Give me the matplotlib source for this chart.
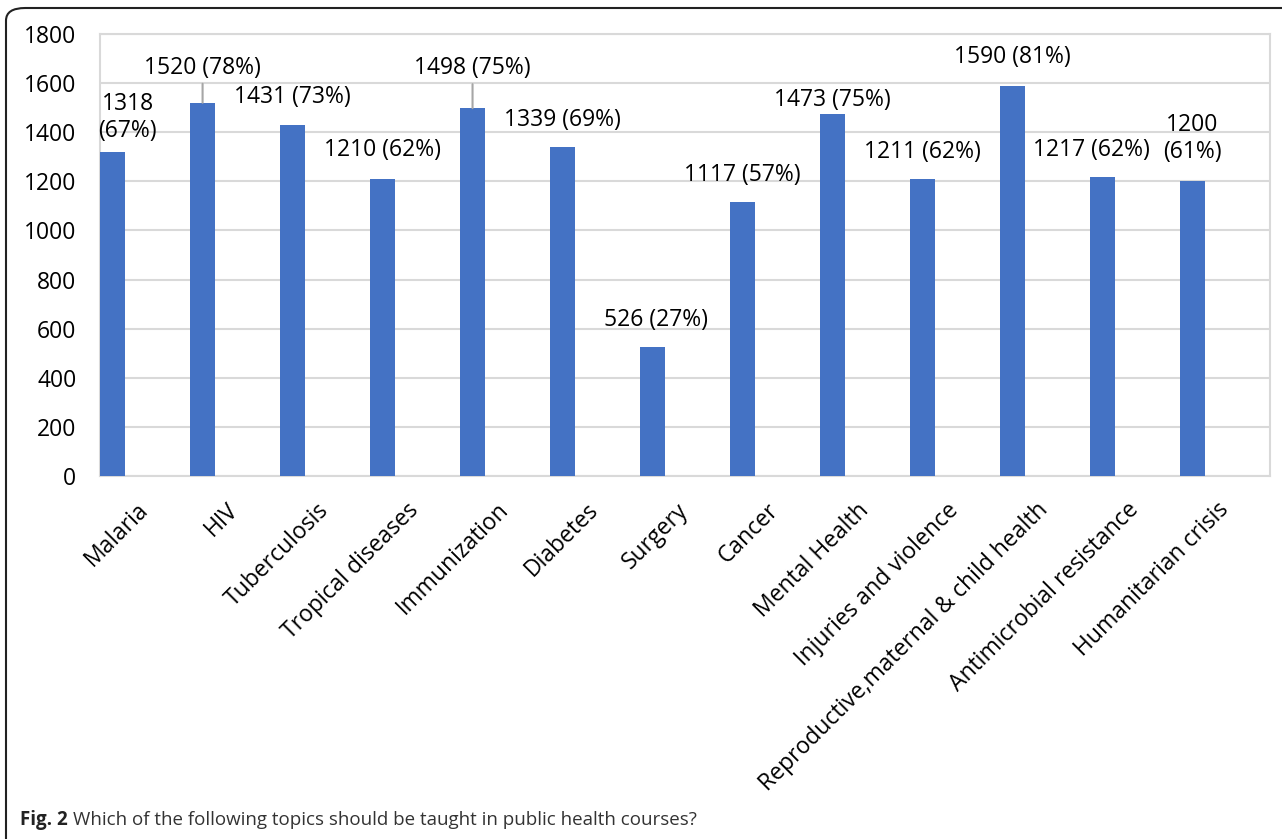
import matplotlib.pyplot as plt
from matplotlib.patches import FancyBboxPatch

# topics and counts
topics = ['Malaria', 'HIV', 'Tuberculosis', 'Tropical diseases', 'Immunization',
          'Diabetes', 'Surgery', 'Cancer', 'Mental Health', 'Injuries and violence',
          'Reproductive,maternal & child health', 'Antimicrobial resistance',
          'Humanitarian crisis']
counts = [1318, 1520, 1431, 1210, 1498, 1339, 526, 1117, 1473, 1211, 1590, 1217, 1200]
percents = [67, 78, 73, 62, 75, 69, 27, 57, 75, 62, 81, 62, 61]
y_ticks = [0, 200, 400, 600, 800, 1000, 1200, 1400, 1600, 1800]

# manual label placement (pixel offsets from bar top), like the original Excel chart
two_line = [True, False, False, False, False, False, False, False, False, False, False, False, True]
label_dx = [15, 0, 0, 0, 0, 0, 3, 0, 0, 0, 0, -11, 0]
label_dy = [35, 35, 28, 29, 40, 27, 27, 27, 14, 27, 29, 27, 43]
leader = [False, True, False, False, True, False, False, False, False, False, False, False, False]

plt.rcParams['font.family'] = ['Open Sans', 'DejaVu Sans']
FS = 16.5

fig = plt.figure(figsize=(12.82, 8.39), dpi=100)
ax = fig.add_axes([0.078, 0.4325, 0.9125, 0.527])

x = list(range(len(topics)))
ax.bar(x, counts, width=0.28, color='#4472C4', zorder=3)

ax.set_xlim(-0.14, 12.86)
ax.set_ylim(0, 1800)
ax.set_yticks(y_ticks)
ax.set_yticklabels([str(v) for v in y_ticks], fontsize=FS)
ax.yaxis.grid(True, color='#D9D9D9', linewidth=1.5, zorder=0)
ax.tick_params(axis='y', length=0, pad=17)
for s in ax.spines.values():
    s.set_color('#D9D9D9')
    s.set_linewidth(1.5)

ax.set_xticks([i + 0.36 for i in x])
ax.set_xticklabels(topics, rotation=45, ha='right', va='center',
                   rotation_mode='anchor', fontsize=FS)
ax.tick_params(axis='x', length=0, pad=22)

for i in x:
    if two_line[i]:
        txt = f'{counts[i]}\n({percents[i]}%)'
    else:
        txt = f'{counts[i]} ({percents[i]}%)'
    ax.annotate(txt, (i, counts[i]), xytext=(label_dx[i], label_dy[i]),
                textcoords='offset pixels', ha='center', va='center',
                fontsize=FS, linespacing=1.15, zorder=4)
    if leader[i]:
        ax.annotate('', (i, counts[i]), xytext=(0, label_dy[i] - 16),
                    textcoords='offset pixels',
                    arrowprops=dict(arrowstyle='-', color='#A6A6A6', lw=1.5,
                                    shrinkA=0, shrinkB=0))

# rounded frame around the figure panel
frame = FancyBboxPatch((6 / 1282, -0.1), 1.2, 1.1 - 8 / 839,
                       boxstyle='round,pad=0,rounding_size=0.015',
                       transform=fig.transFigure, fill=False,
                       edgecolor='#222222', linewidth=1.5, clip_on=False)
fig.patches.append(frame)

# caption: bold "Fig. 2" followed by the question
cap = fig.text(20 / 1282, 1 - 820 / 839, 'Fig. 2', fontsize=13.5, fontweight='bold',
               va='center', ha='left', color='#222222')
ax.annotate('Which of the following topics should be taught in public health courses?',
            xy=(1, 0.5), xycoords=cap, xytext=(4, 0), textcoords='offset points',
            fontsize=13.5, va='center', ha='left', color='#333333',
            annotation_clip=False)

fig.savefig('out.png', dpi=100)
